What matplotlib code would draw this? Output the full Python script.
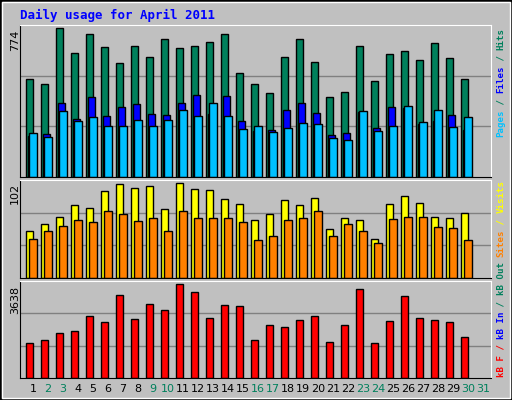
import matplotlib
matplotlib.use("Agg")
import matplotlib.pyplot as plt
from matplotlib.patches import Rectangle

days = list(range(1, 32))
hits = [510, 484, 774, 643, 743, 674, 590, 680, 620, 714, 671, 680, 701, 743, 537, 484, 436, 620, 714, 595, 415, 441, 680, 500, 637, 653, 606, 696, 615, 510]
files = [214, 223, 385, 301, 417, 317, 364, 380, 327, 322, 385, 427, 327, 422, 291, 238, 243, 348, 385, 333, 217, 228, 338, 254, 364, 359, 275, 291, 322, 243]
pages = [228, 207, 343, 291, 312, 265, 265, 296, 265, 296, 348, 317, 385, 317, 249, 265, 233, 254, 280, 275, 201, 191, 343, 238, 265, 369, 286, 348, 259, 312]
visits = [51, 58, 66, 78, 75, 94, 101, 97, 99, 74, 102, 96, 95, 85, 80, 62, 69, 84, 78, 86, 53, 64, 62, 42, 80, 88, 81, 66, 65, 70]
sites = [42, 50, 56, 62, 60, 72, 69, 61, 65, 51, 72, 64, 65, 65, 60, 41, 45, 62, 65, 72, 45, 58, 50, 38, 63, 66, 66, 55, 54, 41]
kbytes = [1368, 1448, 1727, 1806, 2404, 2165, 3201, 2284, 2842, 2643, 3638, 3320, 2324, 2802, 2762, 1448, 2045, 1965, 2244, 2404, 1408, 2045, 3439, 1368, 2205, 3160, 2324, 2244, 2165, 1567]
day_labels = [str(d) for d in days]
weekend = {2, 3, 9, 10, 16, 17, 23, 24, 30, 31}

W, H = 512, 400
fig = plt.figure(figsize=(W/100, H/100), dpi=100, facecolor="#C0C0C0")
mono = "DejaVu Sans Mono"

def ax_px(x0, y0, x1, y1):
    return fig.add_axes([x0/W, 1 - y1/H, (x1-x0)/W, (y1-y0)/H])

def setup(ax, ymax):
    ax.set_facecolor("#C0C0C0")
    ax.set_xlim(0.13, 31.53)
    ax.set_ylim(0, ymax)
    for f in (1/3, 2/3):
        ax.axhline(ymax*f, color="#808080", lw=1, zorder=0)
    ax.set_xticks([]); ax.set_yticks([])
    for s in ("left", "bottom"):
        ax.spines[s].set_color("black")
    for s in ("right", "top"):
        ax.spines[s].set_color("white")

n = len(hits)
x = list(range(1, n+1))
kw = dict(width=0.5, align="edge", edgecolor="black", linewidth=1)

a1 = ax_px(20, 25, 491, 177)
setup(a1, 788)
a1.bar([v-0.5 for v in x], hits, color="#00805C", **kw)
a1.bar([v-0.37 for v in x], files, color="#0000FF", **kw)
a1.bar([v-0.25 for v in x], pages, color="#00C0FF", **kw)

a2 = ax_px(20, 180, 491, 278)
setup(a2, 105.3)
a2.bar([v-0.5 for v in x], visits, color="#FFFF00", **kw)
a2.bar([v-0.25 for v in x], sites, color="#FF8000", **kw)

a3 = ax_px(20, 281, 491, 378)
setup(a3, 3744)
a3.bar([v-0.5 for v in x], kbytes, color="#FF0000", **kw)

def ftext(px, py, s, **k):
    fig.text(px/W, 1-py/H, s, **k)

ftext(20, 15, "Daily usage for April 2011", color="#0000FF", fontsize=9,
      fontweight="bold", family=mono, va="center", ha="left")
ftext(15, 40, "774", rotation=90, fontsize=8, va="center", ha="center")
ftext(15, 193, "102", rotation=90, fontsize=8, va="center", ha="center")
ftext(15, 300, "3638", rotation=90, fontsize=8, va="center", ha="center")

for d, lab in zip(days, day_labels):
    ftext(33 + (d-1)*15, 389, lab, fontsize=8, ha="center", va="center",
          color="#00805C" if d in weekend else "black")

def vstack(parts, ybottom):
    y = ybottom
    for s, c in parts:
        fig.text(501/W, 1-y/H, s, rotation=90, color=c, fontsize=6.6,
                 family=mono, fontweight="bold", ha="center", va="bottom")
        y -= len(s) * 5.45

vstack([("Pages", "#00C0FF"), (" / ", "#00805C"), ("Files", "#0000FF"), (" / ", "#00805C"), ("Hits", "#00805C")], 137)
vstack([("Sites", "#FF8000"), (" / ", "#FFFF00"), ("Visits", "#FFFF00")], 257)
vstack([("kB F", "#FF0000"), (" / ", "#FF0000"), ("kB In", "#0000FF"), (" / ", "#00805C"), ("kB Out", "#00805C")], 377)

fig.patches.append(Rectangle((0, 0), 1, 1, transform=fig.transFigure, fill=False,
                             edgecolor="black", linewidth=2))
fig.patches.append(Rectangle((2/W, 2/H), 1-4/W, 1-4/H, transform=fig.transFigure, fill=False,
                             edgecolor="white", linewidth=1))
fig.savefig("out.png", dpi=100, facecolor="#C0C0C0")
